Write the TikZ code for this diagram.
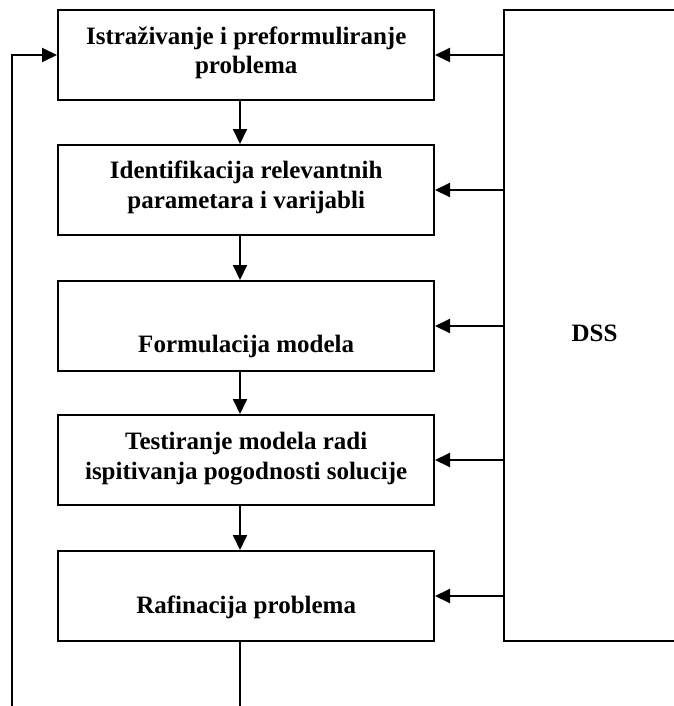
\documentclass[tikz,border=0pt]{standalone}
\usepackage{fontspec}
\setmainfont{Liberation Serif}
\usetikzlibrary{arrows.meta}
\begin{document}
\begin{tikzpicture}[x=1pt,y=-1pt,
  box/.style={draw, line width=2pt, minimum width=376pt, minimum height=90pt, inner sep=0pt},
  lbl/.style={font=\fontsize{25}{29.5}\selectfont\bfseries, inner sep=0pt, anchor=base},
  arr/.style={line width=2pt, -{Triangle[length=15pt,width=14pt]}},
  ln/.style={line width=2pt}]
\useasboundingbox (0,0) rectangle (673,706);
\fill[white] (0,0) rectangle (673,706);

% boxes
\node[box] (b1) at (246,55) {};
\node[box] (b2) at (246,190) {};
\node[box] (b3) at (246,326) {};
\node[box] (b4) at (246,460) {};
\node[box] (b5) at (246,596) {};
\node[draw, line width=2pt, minimum width=181pt, minimum height=631pt, inner sep=0pt] (dss) at (594.5,325.5) {};

% texts
\node[lbl] (t1a) at (246.2,44.3) {Istraživanje i preformuliranje};
\node[lbl] (t1b) at (246.2,73.3) {problema};
\node[lbl] (t2a) at (246.2,178.3) {Identifikacija relevantnih};
\node[lbl] (t2b) at (246.2,208) {parametara i varijabli};
\node[lbl] (t3) at (246.2,352.7) {Formulacija modela};
\node[lbl] (t4a) at (246.2,449.3) {Testiranje modela radi};
\node[lbl] (t4b) at (246.2,479) {ispitivanja pogodnosti solucije};
\node[lbl] (t5) at (246.2,613.3) {Rafinacija problema};
\node[lbl] (tdss) at (594.5,341) {DSS};

% vertical flow
\draw[arr] ([xshift=-6pt]b1.south) -- ([xshift=-6pt]b2.north);
\draw[arr] ([xshift=-6pt]b2.south) -- ([xshift=-6pt]b3.north);
\draw[arr] ([xshift=-6pt]b3.south) -- ([xshift=-6pt]b4.north);
\draw[arr] ([xshift=-6pt]b4.south) -- ([xshift=-6pt]b5.north);
\coordinate (bottom) at (240,712);
\draw[ln] ([xshift=-6pt]b5.south) -- (bottom);

% DSS arrows
\foreach \b in {b1,b2,b3,b4,b5}
  \draw[arr] (dss.west |- \b.east) -- (\b.east);

% feedback
\coordinate (fb) at (12,712);
\draw[arr] (fb) |- (b1.west);
\end{tikzpicture}
\end{document}
